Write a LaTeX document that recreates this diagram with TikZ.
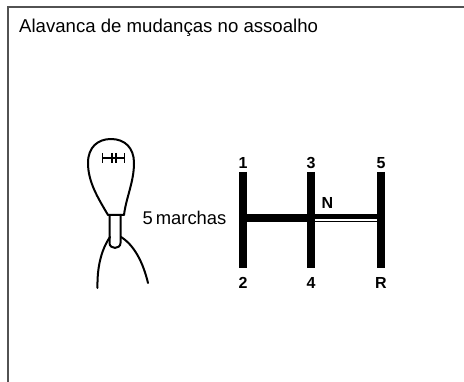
\documentclass[tikz,border=0pt]{standalone}
\usepackage{fontspec}
\setmainfont{Liberation Sans}
\begin{document}
\begin{tikzpicture}[x=1pt,y=-1pt,
  frame/.style={draw=black!68,line width=2pt},
  stick/.style={draw=black,line width=2pt,line join=round,line cap=round},
  gate/.style={line width=8pt,draw=black},
  gearlbl/.style={font=\fontsize{16}{18}\selectfont\bfseries,inner sep=0pt},
  plain/.style={font=\fontsize{18.6}{20}\selectfont,inner sep=0pt}]
\useasboundingbox (0,0) rectangle (464,382);
\fill[white] (0,0) rectangle (464,382);

% open frame: top and left edges only
\draw[frame] (464,7.5) -- (7.5,7.5) -- (7.5,382);
\node[plain,anchor=base west] (title) at (19,33) {Alavanca de mudanças no assoalho};

% gear knob
\draw[stick] (108,215) .. controls (98,198) and (88,182) .. (88,163)
  .. controls (88,147) and (98,139) .. (111,139)
  .. controls (125,139) and (134,148) .. (134,163)
  .. controls (134,182) and (126,198) .. (124,215) -- cycle;
% pattern mark on the knob
\draw[black,line width=1.4pt] (102,158) -- (125,158)
  (102.5,153) -- (102.5,163) (112,153) -- (112,163)
  (116,153) -- (116,163) (124.5,153) -- (124.5,163);
% shaft
\draw[stick] (109.5,215) -- (109.5,243) .. controls (109.5,249.5) and (120.5,249.5) .. (120.5,243) -- (120.5,215);
% boot
\draw[stick] (110,237) .. controls (101,250) and (97,268) .. (97.5,288);
\draw[stick] (121,237) .. controls (134,245) and (143,262) .. (148,283);

\node[plain,font=\fontsize{18.4}{20}\selectfont] (marchas) at (184.5,218) {5\,marchas};

% gate positions
\coordinate (t1) at (243,172); \coordinate (b2) at (243,268);
\coordinate (t3) at (311,172); \coordinate (b4) at (311,268);
\coordinate (t5) at (381,172); \coordinate (bR) at (381,268);
\coordinate (m1) at (243,218.5); \coordinate (m3) at (311,218.5); \coordinate (m5) at (381,218.5);

\draw[gate] (t1) -- (b2);
\draw[gate] (t3) -- (b4);
\draw[gate] (t5) -- (bR);
\draw[line width=8pt] (m1) -- (m3);
\draw[line width=8pt] (m3) -- (m5);
\draw[white,line width=1.5pt] ([xshift=4pt,yshift=-1.5pt]m3) -- ([xshift=-4pt,yshift=-1.5pt]m5);

\node[gearlbl] (l1) at (243,163) {1};
\node[gearlbl] (l3) at (311,163) {3};
\node[gearlbl] (l5) at (381,163) {5};
\node[gearlbl] (l2) at (243,282.5) {2};
\node[gearlbl] (l4) at (311,282.5) {4};
\node[gearlbl] (lR) at (381,282.5) {R};
\node[gearlbl] (lN) at (327.5,203) {N};
\end{tikzpicture}
\end{document}
